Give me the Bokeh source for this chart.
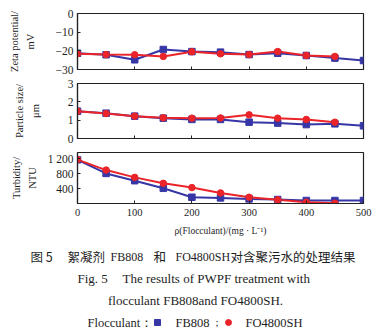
from bokeh.plotting import figure
from bokeh.layouts import column, row
from bokeh.models import Range1d, FixedTicker, Label
from bokeh.embed import file_html
from bokeh.resources import INLINE

# ---- data ----
dose_fb808 = [0, 50, 100, 150, 200, 250, 300, 350, 400, 450, 500]
dose_fo4800 = [0, 50, 100, 150, 200, 250, 300, 350, 400, 450]

zeta_fb808 = [-21.3, -22.1, -24.8, -19.3, -20.4, -20.7, -22.0, -21.3, -22.5, -23.9, -25.2]
zeta_fo4800 = [-21.5, -22.0, -22.1, -23.0, -20.5, -21.6, -22.0, -20.4, -22.5, -23.0]

size_fb808 = [1.49, 1.38, 1.22, 1.11, 1.04, 1.04, 0.89, 0.84, 0.76, 0.80, 0.69]
size_fo4800 = [1.49, 1.36, 1.22, 1.13, 1.11, 1.12, 1.29, 1.11, 1.04, 0.89]

turb_fb808 = [1173, 808, 613, 408, 168, 151, 124, 107, 80, 80, 80]
turb_fo4800 = [1180, 898, 702, 542, 427, 284, 168, 98, 36, 8]

x_ticks = [0, 100, 200, 300, 400, 500]
zeta_ticks = [-30, -20, -10, 0]
size_ticks = [0, 1, 2, 3]
turb_ticks = [400, 800, 1200]
turb_labels = {400: "400", 800: "800", 1200: "1 200"}

caption_cn_parts = ["图 5", "絮凝剂", "FB808", "和", "FO4800SH", "对含聚污水的处理结果"]
caption_en1 = ["Fig. 5", "The results of PWPF treatment with"]
caption_en2 = "flocculant FB808and FO4800SH."
legend_title = "Flocculant："
series_names = ["FB808", "FO4800SH"]

BLUE = "#3636a6"
RED = "#ea2428"
INK = "#1e1e1e"
SERIF = "Liberation Serif"
CJK = "Noto Sans CJK SC"


def panel(height, top, bottom, yr, yticks, ylabel, ylabel_standoff, show_x_labels):
    p = figure(width=378, height=height, output_backend="svg", toolbar_location=None,
               x_range=Range1d(0, 500), y_range=yr,
               min_border_left=77, min_border_right=15,
               min_border_top=top, min_border_bottom=bottom)
    p.background_fill_color = "white"
    p.border_fill_color = "white"
    p.outline_line_color = "#222222"
    p.outline_line_width = 1.2
    p.grid.visible = False
    for ax in (p.xaxis[0], p.yaxis[0]):
        ax.axis_line_color = "#222222"
        ax.axis_line_width = 1.2
        ax.major_tick_in = 3
        ax.major_tick_out = 0
        ax.minor_tick_line_color = None
        ax.major_tick_line_color = "#222222"
        ax.major_label_text_font = SERIF
        ax.major_label_text_color = INK
        ax.axis_label_text_font = SERIF
        ax.axis_label_text_font_size = "10.5px"
        ax.axis_label_text_font_style = "normal"
        ax.axis_label_text_color = INK
        ax.axis_label_text_line_height = 1.45
    p.xaxis.major_label_text_font_size = "10.5px"
    p.yaxis.major_label_text_font_size = "11.5px"
    p.xaxis.ticker = FixedTicker(ticks=x_ticks)
    p.yaxis.ticker = FixedTicker(ticks=yticks)
    p.yaxis.major_label_standoff = 4
    p.yaxis.axis_label = ylabel
    p.yaxis.axis_label_standoff = ylabel_standoff
    if not show_x_labels:
        p.xaxis.major_label_text_font_size = "0px"
        p.xaxis.major_label_text_color = None
        p.xaxis.major_label_standoff = 0
    return p


def draw(p, yb, yr_):
    p.line(dose_fb808, yb, line_color=BLUE, line_width=2)
    p.line(dose_fo4800, yr_, line_color=RED, line_width=2)
    p.scatter(dose_fb808, yb, marker="square", size=6.5, fill_color=BLUE, line_color=BLUE)
    p.scatter(dose_fo4800, yr_, marker="circle", size=6.5, fill_color=RED, line_color=RED)


p1 = panel(76, 13, 7, Range1d(-30, 0), zeta_ticks, "Zeta potential/\nmV", 17, False)
draw(p1, zeta_fb808, zeta_fo4800)

p2 = panel(69, 7, 7, Range1d(0, 3), size_ticks, "Particle size/\nμm", 24, False)
draw(p2, size_fb808, size_fo4800)

p3 = panel(97, 7, 39, Range1d(0, 1370), turb_ticks, "Turbidity/\nNTU", 7, True)
p3.yaxis.major_label_overrides = turb_labels
p3.xaxis.axis_label = "ρ(Flocculant)/(mg · L⁻¹)"
p3.xaxis.axis_label_standoff = 7
p3.xaxis.major_label_standoff = 5
p3.xaxis.axis_label_text_font_size = "9.5px"
draw(p3, turb_fb808, turb_fo4800)

# caption area: data coordinates equal page pixels
cap = figure(width=378, height=93, output_backend="svg", toolbar_location=None,
             x_range=Range1d(0, 378), y_range=Range1d(335, 242),
             x_axis_type=None, y_axis_type=None,
             min_border=0, min_border_left=0, min_border_right=0,
             min_border_top=0, min_border_bottom=0)
cap.grid.visible = False
cap.outline_line_color = None
cap.background_fill_color = "white"
cap.border_fill_color = "white"


def put(x, y, s, font, size, align="left"):
    cap.add_layout(Label(x=x, y=y, text=s, text_font=font, text_font_size=size,
                         text_align=align, text_baseline="middle", text_color=INK))


cn_x = [30, 67, 110, 153, 175, 230]
for xx, s in zip(cn_x, caption_cn_parts):
    is_latin = s[0].isascii() and s[0].isalpha()
    put(xx, 256, s, SERIF if is_latin else CJK, "12px" if is_latin else "12.5px")

put(77, 278, caption_en1[0], SERIF, "13px")
put(122, 278, caption_en1[1], SERIF, "13px")
put(195, 300, caption_en2, SERIF, "13px", "center")

put(87, 322, legend_title, SERIF, "12.5px")
cap.scatter(x=[157], y=[322], marker="square", size=6, fill_color=BLUE, line_color=BLUE)
put(175, 322, series_names[0], SERIF, "12.5px")
put(211, 322, "；", SERIF, "10px")
cap.scatter(x=[228], y=[322], marker="circle", size=6, fill_color=RED, line_color=RED)
put(245, 322, series_names[1], SERIF, "12.5px")

layout = column(p1, p2, p3, row(cap, spacing=0), spacing=0)
open("out.html", "w").write(file_html(layout, INLINE))
